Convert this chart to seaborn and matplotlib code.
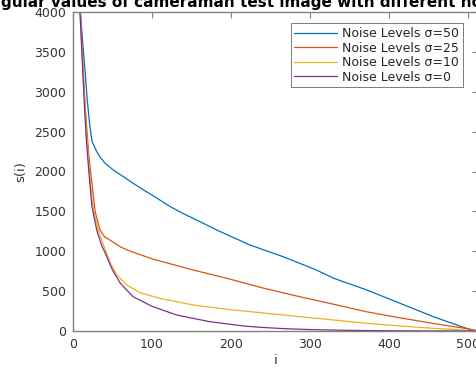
import pandas as pd
import matplotlib
matplotlib.use('Agg')
import matplotlib.pyplot as plt
import seaborn as sns

# Singular values (index i, value s(i))
i_50 = [1, 3, 5, 7, 9, 12, 15, 18, 21, 24, 30, 34, 40, 51, 60, 75, 89, 100, 123, 140,
        161, 182, 224, 266, 287, 308, 330, 372, 414, 456, 498, 512]
s_50 = [32000, 9000, 6200, 4800, 4050, 3650, 3300, 2900, 2600, 2380, 2250, 2186, 2110, 2019,
        1960, 1860, 1770, 1705, 1560, 1470, 1370, 1266, 1078, 932, 849, 765, 661, 514, 347,
        180, 33, 0]

i_25 = [1, 3, 5, 7, 9, 12, 15, 17, 20, 24, 28, 34, 40, 50, 60, 70, 100, 150, 195, 240,
        287, 330, 372, 414, 456, 498, 512]
s_25 = [30000, 8500, 5800, 4600, 4000, 3450, 2900, 2600, 2200, 1850, 1500, 1270, 1180, 1120,
        1055, 1010, 905, 770, 660, 540, 430, 335, 240, 165, 95, 30, 0]

i_10 = [1, 3, 5, 7, 9, 12, 15, 17, 20, 24, 28, 32, 40, 47, 55, 68, 85, 110, 152, 195,
        237, 287, 330, 372, 414, 456, 498, 512]
s_10 = [29000, 8300, 5700, 4500, 4000, 3380, 2820, 2480, 2080, 1650, 1420, 1266, 1040, 860,
        710, 577, 480, 410, 326, 272, 230, 180, 138, 96, 63, 33, 10, 0]

i_0 = [1, 3, 5, 7, 9, 12, 15, 17, 20, 24, 30, 36, 42, 47, 51, 60, 76, 100, 131, 173, 216,
       237, 270, 300, 350, 400, 450, 512]
s_0 = [29000, 8200, 5600, 4450, 3980, 3320, 2720, 2380, 2000, 1560, 1266, 1080, 950, 830,
       745, 598, 430, 310, 201, 117, 63, 46, 28, 18, 8, 3, 1, 0]

labels = ['Noise Levels σ=50', 'Noise Levels σ=25', 'Noise Levels σ=10', 'Noise Levels σ=0']
colors = ['#0072BD', '#D95319', '#EDB120', '#7E2F8E']

frames = []
for lab, xs, ys in zip(labels, [i_50, i_25, i_10, i_0], [s_50, s_25, s_10, s_0]):
    frames.append(pd.DataFrame({'i': xs, 's': ys, 'series': lab}))
df = pd.concat(frames, ignore_index=True)

sns.set_style('white')
plt.rcParams['font.family'] = ['DejaVu Sans']

fig = plt.figure(figsize=(4.76, 3.69), dpi=100)
# axes placed so the right edge and title run off the canvas like the reference crop
ax = fig.add_axes([73 / 476, 1 - 331 / 369, 404.5 / 476, 319 / 369])

sns.lineplot(data=df, x='i', y='s', hue='series', hue_order=labels,
             palette=dict(zip(labels, colors)), estimator=None, sort=True,
             linewidth=0.9, ax=ax)

ax.set_xlim(0, 512)
ax.set_ylim(0, 4000)
ax.set_xticks([0, 100, 200, 300, 400, 500])
ax.set_yticks(range(0, 4001, 500))

for sp in ax.spines.values():
    sp.set_visible(True)
    sp.set_color('#808080')
    sp.set_linewidth(1.0)

ax.tick_params(direction='in', length=4, width=0.8, top=True, right=True,
               colors='#808080', labelcolor='#333333', labelsize=9, pad=5)

ax.set_xlabel('i', fontsize=9.5, color='#333333', labelpad=2)
ax.set_ylabel('s(i)', fontsize=9.5, color='#333333', labelpad=5)
ax.set_title('Singular values of cameraman test image with different noise levels',
             fontsize=11, fontweight='bold', color='black', x=0.481, pad=3.4)

handles, labs = ax.get_legend_handles_labels()
leg = ax.legend(handles, labs, loc='upper right',
                bbox_to_anchor=(462.7 / 476, 1 - 23.3 / 369), bbox_transform=fig.transFigure,
                borderaxespad=0, fontsize=9, frameon=True, fancybox=False,
                handlelength=3.4, handletextpad=0.4, labelspacing=0.12,
                borderpad=0.3, labelcolor='#262626')
leg.get_frame().set_edgecolor('#404040')
leg.get_frame().set_linewidth(0.6)

fig.savefig('out.png', dpi=100)
